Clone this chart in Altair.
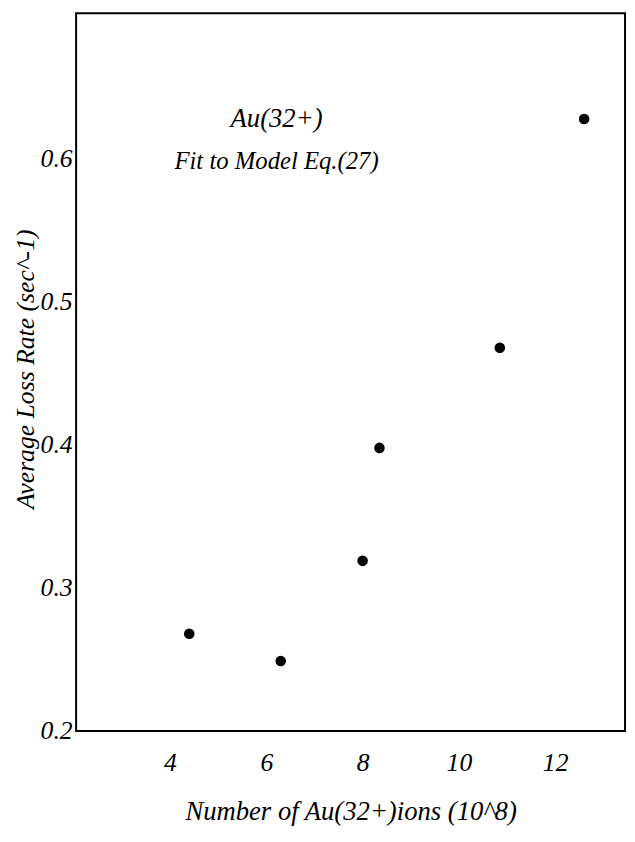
import altair as alt
import pandas as pd

# Data
ions = [4.4, 6.3, 8.0, 8.35, 10.85, 12.6]
loss_rate = [0.268, 0.249, 0.319, 0.398, 0.468, 0.628]

x_ticks = [4, 6, 8, 10, 12]
y_ticks = [0.2, 0.3, 0.4, 0.5, 0.6]

annotations = ["Au(32+)", "Fit to Model Eq.(27)"]

df = pd.DataFrame({"ions": ions, "rate": loss_rate})

FONT = "Liberation Serif"

W, H = 556, 727

points = alt.Chart(df).mark_point(filled=True, color="black", opacity=1, size=115).encode(
    x=alt.X(
        "ions:Q",
        scale=alt.Scale(domain=[2.05, 13.45], nice=False, zero=False),
        axis=alt.Axis(
            values=x_ticks,
            title="Number of Au(32+)ions (10^8)",
            domain=False,
            ticks=False,
            grid=False,
            labelFont=FONT,
            labelFontStyle="italic",
            labelFontSize=26,
            labelColor="black",
            labelBaseline="middle",
            labelPadding=32,
            labelFlush=False,
            titleFont=FONT,
            titleFontStyle="italic",
            titleFontWeight="normal",
            titleFontSize=27,
            titleColor="black",
            titleX=W / 2,
            titleY=82,
            titleBaseline="middle",
            titleAlign="center",
        ),
    ),
    y=alt.Y(
        "rate:Q",
        scale=alt.Scale(domain=[0.2, 0.702], nice=False, zero=False),
        axis=alt.Axis(
            values=y_ticks,
            format=".1f",
            title="Average Loss Rate (sec^-1)",
            domain=False,
            ticks=False,
            grid=False,
            labelFont=FONT,
            labelFontStyle="italic",
            labelFontSize=26,
            labelColor="black",
            labelPadding=4,
            labelFlush=False,
            titleFont=FONT,
            titleFontStyle="italic",
            titleFontWeight="normal",
            titleFontSize=26,
            titleColor="black",
            titleAngle=270,
            titleX=-51,
            titleY=360,
            titleBaseline="middle",
            titleAlign="center",
        ),
    ),
)

label1 = alt.Chart(pd.DataFrame({"t": [annotations[0]]})).mark_text(
    font=FONT, fontStyle="italic", fontSize=27, color="black", align="center", baseline="middle"
).encode(text="t:N", x=alt.value(203), y=alt.value(107))

label2 = alt.Chart(pd.DataFrame({"t": [annotations[1]]})).mark_text(
    font=FONT, fontStyle="italic", fontSize=25, color="black", align="center", baseline="middle"
).encode(text="t:N", x=alt.value(203), y=alt.value(150))

chart = (
    alt.layer(points, label1, label2)
    .properties(
        width=W,
        height=H,
        autosize=alt.AutoSizeParams(type="none"),
        padding={"left": 69, "top": 0, "right": 2, "bottom": 100},
    )
    .configure(background="white", view=alt.ViewConfig(stroke="black", strokeWidth=2))
)

chart.save("out.html", embed_options={"renderer": "svg", "actions": False})
